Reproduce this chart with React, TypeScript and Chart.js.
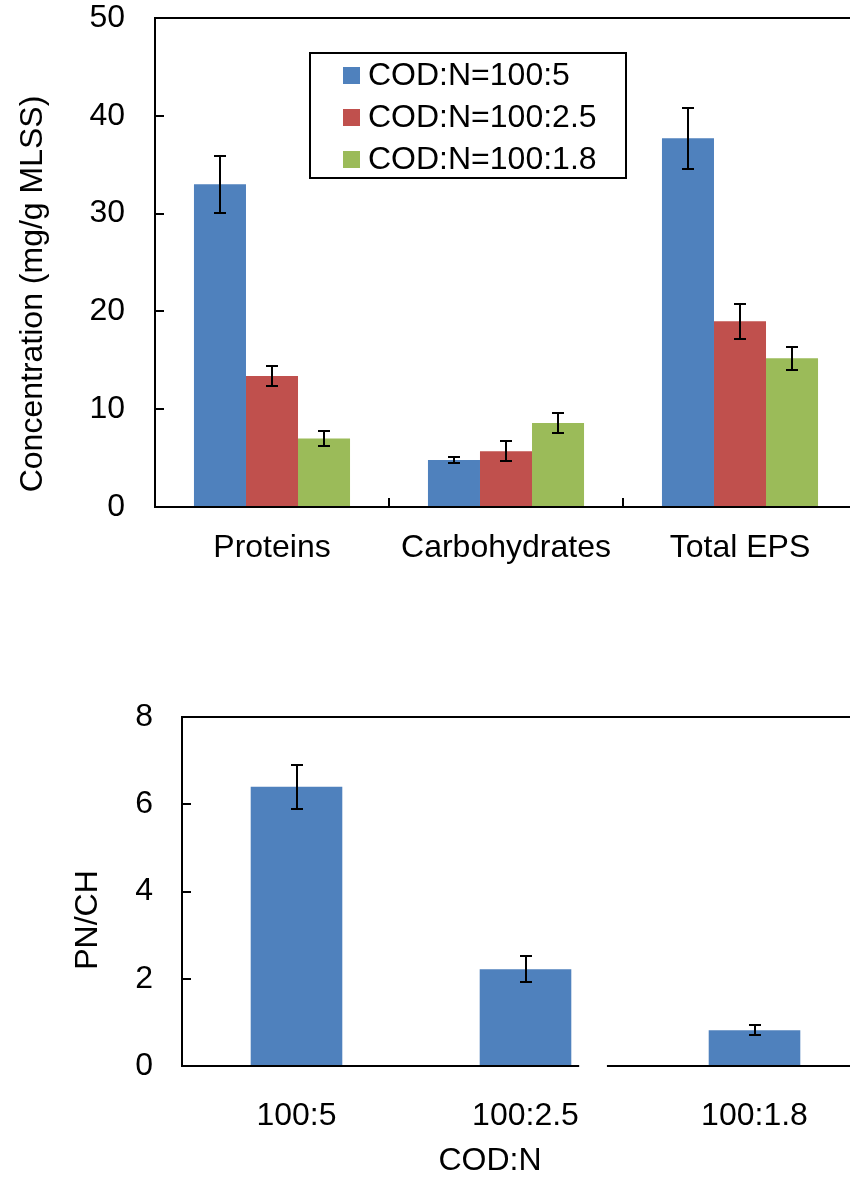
import React, { useEffect, useRef } from 'react';
import { Chart, registerables } from 'chart.js';

Chart.register(...registerables);

// ---------- data ----------
const epsCategories = ['Proteins', 'Carbohydrates', 'Total EPS'];
const seriesLabels = ['COD:N=100:5', 'COD:N=100:2.5', 'COD:N=100:1.8'];
const seriesColors = ['#4F81BD', '#C0504D', '#9BBB59'];
const cod5Values = [33.0, 4.8, 37.7];
const cod5Errors = [2.9, 0.35, 3.1];
const cod25Values = [13.4, 5.7, 19.0];
const cod25Errors = [1.0, 1.0, 1.8];
const cod18Values = [7.0, 8.6, 15.2];
const cod18Errors = [0.8, 1.0, 1.2];
const concentrationTicks = { min: 0, max: 50, step: 10 };

const ratioCategories = ['100:5', '100:2.5', '100:1.8'];
const pnchValues = [6.4, 2.22, 0.82];
const pnchErrors = [0.5, 0.3, 0.12];
const pnchTicks = { min: 0, max: 8, step: 2 };

// ---------- styles ----------
const FONT = '"Liberation Sans", Arial, Helvetica, sans-serif';
const FONT_SIZE = 32;
const axisBreak = [1.23, 1.36]; // small gap in the lower chart's x axis line (category units)

// ---------- plugins ----------
const framePlugin = {
  id: 'frame',
  afterDatasetsDraw(chart: any, _args: any, opts: any) {
    const { ctx, chartArea: a } = chart;
    const xs = chart.scales.x;
    const ys = chart.scales.y;
    ctx.save();
    ctx.strokeStyle = '#000';
    ctx.lineWidth = 2;
    ctx.lineCap = 'square';
    ctx.beginPath();
    ctx.moveTo(a.left, a.top);
    ctx.lineTo(a.right, a.top);
    ctx.moveTo(a.left, a.top);
    ctx.lineTo(a.left, a.bottom);
    ctx.moveTo(a.right, a.top);
    ctx.lineTo(a.right, a.bottom);
    if (opts.gap) {
      const g0 = xs.getPixelForValue(opts.gap[0]);
      const g1 = xs.getPixelForValue(opts.gap[1]);
      ctx.moveTo(a.left, a.bottom);
      ctx.lineTo(g0, a.bottom);
      ctx.moveTo(g1, a.bottom);
      ctx.lineTo(a.right, a.bottom);
    } else {
      ctx.moveTo(a.left, a.bottom);
      ctx.lineTo(a.right, a.bottom);
    }
    ctx.stroke();
    ctx.lineCap = 'butt';
    ctx.beginPath();
    for (const t of ys.ticks) {
      const py = Math.round(ys.getPixelForValue(t.value));
      ctx.moveTo(a.left, py);
      ctx.lineTo(a.left + opts.tick, py);
    }
    if (opts.xTicks) {
      for (let i = 0; i < xs.ticks.length; i++) {
        const px = Math.round(xs.getPixelForValue(i + 0.5));
        ctx.moveTo(px, a.bottom);
        ctx.lineTo(px, a.bottom - opts.tick);
      }
    }
    ctx.stroke();
    ctx.restore();
  },
};

const errorBarPlugin = {
  id: 'errorBars',
  afterDatasetsDraw(chart: any, _args: any, opts: any) {
    const { ctx } = chart;
    const ys = chart.scales.y;
    ctx.save();
    ctx.strokeStyle = '#000';
    ctx.lineWidth = 2;
    chart.data.datasets.forEach((ds: any, i: number) => {
      const meta = chart.getDatasetMeta(i);
      (ds.errors || []).forEach((e: number, j: number) => {
        const v = ds.data[j] as number;
        const bar = meta.data[j];
        const cx = Math.round(bar.x);
        const top = Math.round(ys.getPixelForValue(v + e));
        const bot = Math.round(ys.getPixelForValue(v - e));
        ctx.beginPath();
        ctx.moveTo(cx, top);
        ctx.lineTo(cx, bot);
        ctx.moveTo(cx - opts.cap, top);
        ctx.lineTo(cx + opts.cap, top);
        ctx.moveTo(cx - opts.cap, bot);
        ctx.lineTo(cx + opts.cap, bot);
        ctx.stroke();
      });
    });
    ctx.restore();
  },
};

const boxLegendPlugin = {
  id: 'boxLegend',
  afterDraw(chart: any, _args: any, opts: any) {
    if (!opts || !opts.show) return;
    const { ctx, chartArea: a } = chart;
    const left = a.left + opts.dx;
    const top = a.top + opts.dy;
    ctx.save();
    ctx.fillStyle = '#fff';
    ctx.fillRect(left, top, opts.w, opts.h);
    ctx.strokeStyle = '#000';
    ctx.lineWidth = 2;
    ctx.strokeRect(left, top, opts.w, opts.h);
    ctx.font = `${FONT_SIZE}px ${FONT}`;
    ctx.textBaseline = 'middle';
    ctx.textAlign = 'left';
    chart.data.datasets.forEach((ds: any, i: number) => {
      const cy = top + opts.firstRow + i * opts.rowGap;
      ctx.fillStyle = ds.backgroundColor;
      ctx.fillRect(left + opts.swatchX, Math.round(cy - opts.swatch / 2), opts.swatch, opts.swatch);
      ctx.fillStyle = '#000';
      ctx.fillText(ds.label, left + opts.textX, cy + 1);
    });
    ctx.restore();
  },
};

const freeTitlesPlugin = {
  id: 'freeTitles',
  afterDraw(chart: any, _args: any, opts: any) {
    if (!opts || !opts.items) return;
    const { ctx } = chart;
    for (const t of opts.items) {
      ctx.save();
      ctx.translate(t.x, t.y);
      ctx.rotate(t.rotation || 0);
      ctx.font = `${FONT_SIZE}px ${FONT}`;
      ctx.fillStyle = '#000';
      ctx.textAlign = 'center';
      ctx.textBaseline = 'alphabetic';
      ctx.fillText(t.text, 0, 0);
      ctx.restore();
    }
  },
};

const tickFont = { family: FONT, size: FONT_SIZE, lineHeight: 1 };

const fixX = (h: number) => (s: any) => {
  s.height = h;
  s.paddingLeft = 0;
  s.paddingRight = 0;
  s.paddingTop = 0;
  s.paddingBottom = 0;
};
const fixY = (w: number) => (s: any) => {
  s.width = w;
  s.paddingLeft = 0;
  s.paddingRight = 0;
  s.paddingTop = 0;
  s.paddingBottom = 0;
};

function topConfig(): any {
  const values = [cod5Values, cod25Values, cod18Values];
  const errors = [cod5Errors, cod25Errors, cod18Errors];
  return {
    type: 'bar',
    data: {
      labels: epsCategories,
      datasets: seriesLabels.map((label, i) => ({
        label,
        data: values[i],
        errors: errors[i],
        backgroundColor: seriesColors[i],
        borderWidth: 0,
        categoryPercentage: 0.667,
        barPercentage: 1,
      })),
    },
    options: {
      responsive: false,
      animation: false,
      events: [],
      layout: { padding: { left: 0, top: 18, right: 43, bottom: 0 } },
      plugins: {
        legend: { display: false },
        tooltip: { enabled: false },
        frame: { tick: 9, xTicks: true },
        errorBars: { cap: 6 },
        boxLegend: { show: true, dx: 155, dy: 35, w: 316, h: 125, firstRow: 22, rowGap: 42, swatch: 17, swatchX: 33, textX: 58 },
        freeTitles: { items: [{ text: 'Concentration (mg/g MLSS)', x: 42, y: 294, rotation: -Math.PI / 2 }] },
      },
      scales: {
        x: {
          type: 'category',
          offset: true,
          grid: { display: false, drawTicks: false },
          border: { display: false },
          ticks: { color: '#000', font: tickFont, padding: 25, maxRotation: 0, autoSkip: false },
          afterFit: fixX(83),
        },
        y: {
          type: 'linear',
          min: concentrationTicks.min,
          max: concentrationTicks.max,
          grid: { display: false, drawTicks: false },
          border: { display: false },
          ticks: { stepSize: concentrationTicks.step, color: '#000', font: tickFont, padding: 30 },
          afterFit: fixY(155),
        },
      },
    },
    plugins: [framePlugin, errorBarPlugin, boxLegendPlugin, freeTitlesPlugin],
  };
}

function bottomConfig(): any {
  return {
    type: 'bar',
    data: {
      labels: ratioCategories,
      datasets: [
        {
          label: 'PN/CH',
          data: pnchValues,
          errors: pnchErrors,
          backgroundColor: seriesColors[0],
          borderWidth: 0,
          categoryPercentage: 0.4,
          barPercentage: 1,
        },
      ],
    },
    options: {
      responsive: false,
      animation: false,
      events: [],
      layout: { padding: { left: 0, top: 127, right: 31, bottom: 0 } },
      plugins: {
        legend: { display: false },
        tooltip: { enabled: false },
        frame: { tick: 9, xTicks: false, gap: axisBreak },
        errorBars: { cap: 6 },
        boxLegend: { show: false },
        freeTitles: {
          items: [
            { text: 'PN/CH', x: 97, y: 330, rotation: -Math.PI / 2 },
            { text: 'COD:N', x: 490, y: 580, rotation: 0 },
          ],
        },
      },
      scales: {
        x: {
          type: 'category',
          offset: true,
          grid: { display: false, drawTicks: false },
          border: { display: false },
          ticks: { color: '#000', font: tickFont, padding: 34, maxRotation: 0, autoSkip: false },
          afterFit: fixX(114),
        },
        y: {
          type: 'linear',
          min: pnchTicks.min,
          max: pnchTicks.max,
          grid: { display: false, drawTicks: false },
          border: { display: false },
          ticks: { stepSize: pnchTicks.step, color: '#000', font: tickFont, padding: 29 },
          afterFit: fixY(182),
        },
      },
    },
    plugins: [framePlugin, errorBarPlugin, boxLegendPlugin, freeTitlesPlugin],
  };
}

export default function App() {
  const topRef = useRef<HTMLCanvasElement>(null);
  const bottomRef = useRef<HTMLCanvasElement>(null);

  useEffect(() => {
    const c1 = new Chart(topRef.current as HTMLCanvasElement, topConfig());
    const c2 = new Chart(bottomRef.current as HTMLCanvasElement, bottomConfig());
    return () => {
      c1.destroy();
      c2.destroy();
    };
  }, []);

  return (
    <div
      style={{
        position: 'fixed',
        left: 0,
        top: 0,
        width: 850,
        height: 1180,
        overflow: 'hidden',
        background: '#fff',
      }}
    >
      <canvas
        ref={topRef}
        width={900}
        height={590}
        style={{ position: 'absolute', left: 0, top: 0, width: 900, height: 590 }}
      />
      <canvas
        ref={bottomRef}
        width={900}
        height={590}
        style={{ position: 'absolute', left: 0, top: 590, width: 900, height: 590 }}
      />
    </div>
  );
}
